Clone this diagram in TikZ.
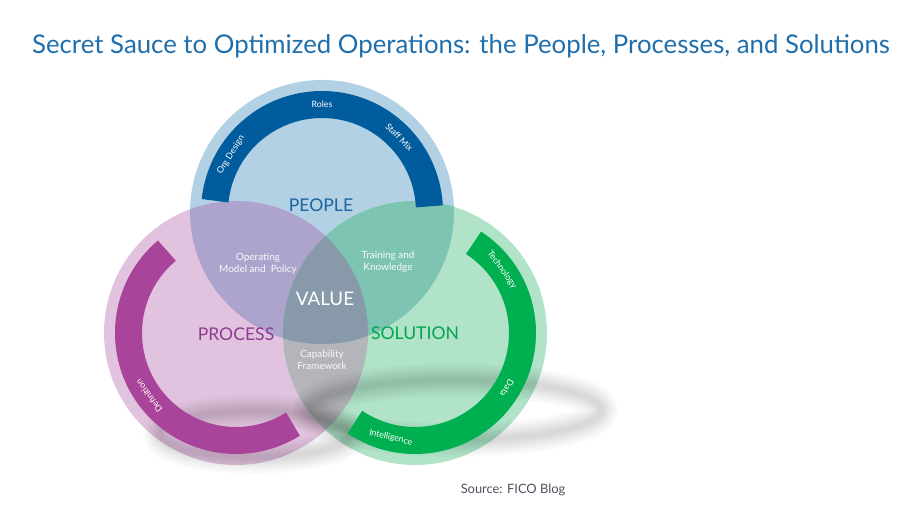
\documentclass[tikz,border=0pt]{standalone}
\usepackage{fontspec}
\setmainfont{Lato}
\usetikzlibrary{positioning}

\definecolor{titleblue}{RGB}{31,111,173}
\definecolor{peoplebg}{RGB}{179,209,228}
\definecolor{processbg}{RGB}{226,195,223}
\definecolor{solutionbg}{RGB}{176,227,199}
\definecolor{peopleproc}{RGB}{172,164,204}
\definecolor{peoplesol}{RGB}{125,196,178}
\definecolor{procsol}{RGB}{179,181,187}
\definecolor{valuebg}{RGB}{136,153,169}
\definecolor{peopleband}{RGB}{0,92,156}
\definecolor{processband}{RGB}{168,68,154}
\definecolor{solutionband}{RGB}{0,176,80}
\definecolor{peopletext}{RGB}{29,100,160}
\definecolor{processtext}{RGB}{142,60,146}
\definecolor{solutiontext}{RGB}{0,166,80}
\definecolor{sourcegray}{RGB}{75,82,95}

\begin{document}
\begin{tikzpicture}[x=0.03cm, y=0.03cm,
    band/.style={line width=0.81cm},
    arclbl/.style={text=white, font=\fontsize{7.5}{9}\selectfont},
    biglbl/.style={font=\fontsize{15}{17}\selectfont},
    midlbl/.style={text=white!95!gray, align=center, font=\fontsize{8.5}{10}\selectfont},
    shadow/.style={black, opacity=0.02}]
    \useasboundingbox (0,0) rectangle (924,514);

    % Circle centres
    \coordinate (cT) at (322,302);
    \coordinate (cL) at (236,181);
    \coordinate (cR) at (415,181);

    % Circles
    \fill[peoplebg] (cT) circle[radius=132];
    \fill[processbg] (cL) circle[radius=132];
    \fill[solutionbg] (cR) circle[radius=132];
    \begin{scope}
        \clip (cL) circle[radius=132];
        \fill[procsol] (cR) circle[radius=132];
    \end{scope}
    \begin{scope}
        \clip (cT) circle[radius=132];
        \fill[peopleproc] (cL) circle[radius=132];
        \fill[peoplesol] (cR) circle[radius=132];
        \clip (cL) circle[radius=132];
        \fill[valuebg] (cR) circle[radius=132];
    \end{scope}

    % Shadows
    \foreach \w in {1.0,0.85,0.7,0.58,0.46,0.35,0.25,0.15}{
        \draw[shadow, line width=\w cm] (455,104) ellipse[x radius=146, y radius=30];
        \draw[shadow, line width=\w cm] (255,80) ellipse[x radius=95, y radius=23];
    }

    % Bands
    \draw[band, peopleband] ([shift={(3:107.5)}]cT) arc[start angle=3, end angle=174, radius=107.5];
    \draw[band, processband] ([shift={(130:107.5)}]cL) arc[start angle=130, end angle=302, radius=107.5];
    \draw[band, solutionband] ([shift={(-124:107.5)}]cR) arc[start angle=-124, end angle=57, radius=107.5];

    % Band labels
    \node[arclbl] (roles) at ([shift={(90:107.5)}]cT) {Roles};
    \node[arclbl, rotate=-46] (staffmix) at ([shift={(44:107.5)}]cT) {Staff Mix};
    \node[arclbl, rotate=58] (orgdesign) at ([shift={(148:107.5)}]cT) {Org Design};
    \node[arclbl, rotate=126] (definition) at ([shift={(216:107.5)}]cL) {Definition};
    \node[arclbl, rotate=-54] (technology) at ([shift={(36:107.5)}]cR) {Technology};
    \node[arclbl, rotate=-121] (data) at ([shift={(-31:107.5)}]cR) {Data};
    \node[arclbl, rotate=-13] (intelligence) at ([shift={(-103:107.5)}]cR) {Intelligence};

    % Circle labels
    \node[biglbl, text=peopletext] (people) at (321,309) {PEOPLE};
    \node[biglbl, text=processtext] (process) at (236,180) {PROCESS};
    \node[biglbl, text=solutiontext] (solution) at (415,181) {SOLUTION};
    \node[biglbl, text=white, font=\fontsize{16}{18}\selectfont] (value) at (325,215) {VALUE};
    \node[midlbl] (opmodel) at (258,250) {Operating\\Model and\ \ Policy};
    \node[midlbl] (training) at (388,252) {Training and\\Knowledge};
    \node[midlbl] (capability) at (322,154) {Capability\\Framework};

    % Title and source
    \node[text=titleblue, font=\fontsize{22}{26}\selectfont] (title) at (461,468) {Secret Sauce to Optimized Operations: the People, Processes, and Solutions};
    \node[text=sourcegray, font=\fontsize{11}{13}\selectfont] (source) at (513,24) {Source: FICO Blog};
\end{tikzpicture}
\end{document}
